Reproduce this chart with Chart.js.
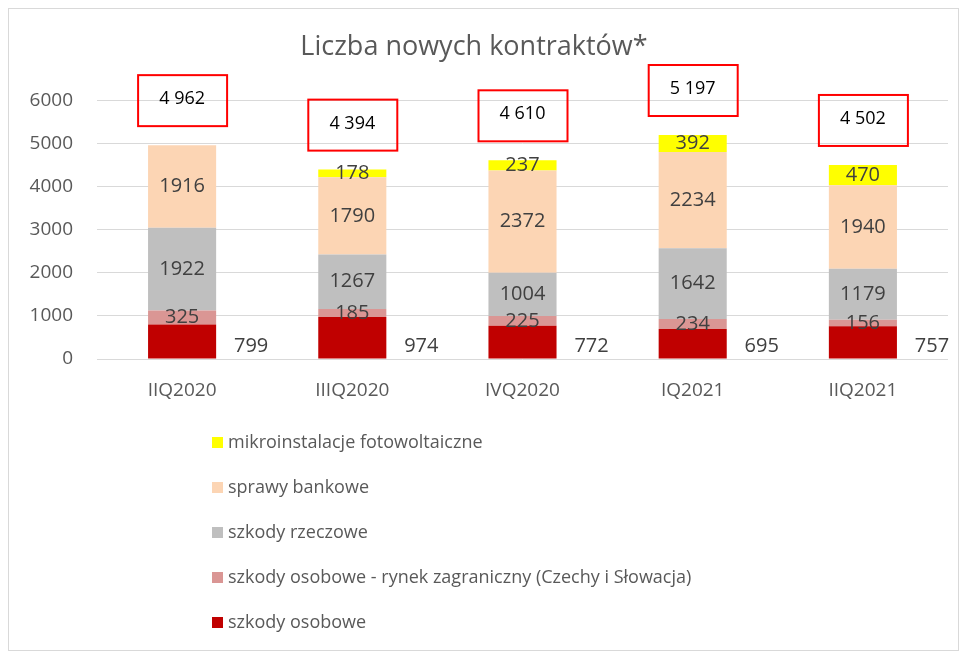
<!DOCTYPE html>
<html>
<head>
<meta charset="utf-8">
<script src="https://cdn.jsdelivr.net/npm/chart.js@4.4.0/dist/chart.umd.min.js"></script>
<style>
  html, body { margin: 0; padding: 0; background: #fff; }
  #wrap { position: relative; width: 966px; height: 653px; }
  #ramka { position: absolute; left: 8px; top: 8px; width: 951px; height: 643px; border: 1px solid #d9d9d9; box-sizing: border-box; pointer-events: none; }
  canvas { position: absolute; left: 0; top: 0; }
</style>
</head>
<body>
<div id="wrap">
  <canvas id="wykres" width="966" height="653"></canvas>
  <div id="ramka"></div>
</div>
<script>
// dane z wykresu
const kwartaly = ['IIQ2020', 'IIIQ2020', 'IVQ2020', 'IQ2021', 'IIQ2021'];
const szkodyOsobowe = [799, 974, 772, 695, 757];
const szkodyZagraniczne = [325, 185, 225, 234, 156];
const szkodyRzeczowe = [1922, 1267, 1004, 1642, 1179];
const sprawyBankowe = [1916, 1790, 2372, 2234, 1940];
const mikroinstalacje = [0, 178, 237, 392, 470];
const osY = [0, 1000, 2000, 3000, 4000, 5000, 6000];

const FONT = '"Open Sans", "Liberation Sans", sans-serif';
const SZARY = '#595959';

// format "4 962"
const formatSumy = (n) => String(n).replace(/\B(?=(\d{3})+(?!\d))/g, ' ');

// etykiety wartosci, sumy w czerwonych ramkach i legenda pionowa
const etykiety = {
    id: 'etykiety',
    afterDatasetsDraw(chart) {
        const ctx = chart.ctx;
        const area = chart.chartArea;
        ctx.save();
        ctx.font = '20px ' + FONT;
        ctx.textAlign = 'center';
        ctx.textBaseline = 'middle';
        ctx.fillStyle = '#404040';
        chart.data.datasets.forEach((ds, i) => {
            const meta = chart.getDatasetMeta(i);
            meta.data.forEach((bar, j) => {
                const v = ds.data[j];
                if (!v) return;
                if (i === 0) {
                    // szkody osobowe - etykieta obok slupka
                    ctx.fillText(v, bar.x + bar.width / 2 + 35, area.bottom - 13);
                } else {
                    ctx.fillText(v, bar.x, (bar.y + bar.base) / 2);
                }
            });
        });

        // sumy
        const yScale = chart.scales.y;
        const ostatni = chart.getDatasetMeta(0).data;
        ctx.font = '18px ' + FONT;
        ctx.fillStyle = '#000';
        ctx.strokeStyle = '#ff0000';
        ctx.lineWidth = 2;
        kwartaly.forEach((k, j) => {
            const suma = chart.data.datasets.reduce((acc, ds) => acc + ds.data[j], 0);
            const cx = ostatni[j].x;
            const cy = yScale.getPixelForValue(suma) - 45;
            ctx.strokeRect(cx - 44, cy - 25, 89, 51);
            ctx.fillText(formatSumy(suma), cx, cy - 1);
        });
        ctx.restore();
    },
    afterDraw(chart) {
        const ctx = chart.ctx;
        const area = chart.chartArea;
        ctx.save();
        ctx.font = '18px ' + FONT;
        ctx.textAlign = 'left';
        ctx.textBaseline = 'middle';
        const ds = chart.data.datasets.slice().reverse();
        ds.forEach((d, i) => {
            const y = area.bottom + 84 + i * 45;
            ctx.fillStyle = d.backgroundColor;
            ctx.fillRect(212, y - 6, 11, 11);
            ctx.fillStyle = SZARY;
            ctx.fillText(d.label, 228, y);
        });
        ctx.restore();
    }
};

const ctx = document.getElementById('wykres').getContext('2d');
new Chart(ctx, {
    type: 'bar',
    data: {
        labels: kwartaly,
        datasets: [
            { label: 'szkody osobowe', data: szkodyOsobowe, backgroundColor: '#C00000' },
            { label: 'szkody osobowe - rynek zagraniczny (Czechy i Słowacja)', data: szkodyZagraniczne, backgroundColor: '#DA9694' },
            { label: 'szkody rzeczowe', data: szkodyRzeczowe, backgroundColor: '#BFBFBF' },
            { label: 'sprawy bankowe', data: sprawyBankowe, backgroundColor: '#FCD5B4' },
            { label: 'mikroinstalacje fotowoltaiczne', data: mikroinstalacje, backgroundColor: '#FFFF00' }
        ]
    },
    options: {
        responsive: false,
        animation: false,
        layout: { padding: { left: 0, right: 18, top: 0, bottom: 244 } },
        datasets: { bar: { barPercentage: 0.8, categoryPercentage: 0.5 } },
        scales: {
            x: {
                stacked: true,
                grid: { display: false },
                border: { display: false },
                ticks: { color: SZARY, font: { family: FONT, size: 19 }, padding: 12 },
                afterFit: (scale) => { scale.height = 50; }
            },
            y: {
                stacked: true,
                min: osY[0],
                max: osY[osY.length - 1],
                afterBuildTicks: (scale) => { scale.ticks = osY.map(v => ({ value: v })); },
                grid: { color: '#d9d9d9', lineWidth: 1, drawTicks: false },
                border: { display: false },
                ticks: { color: SZARY, font: { family: FONT, size: 19 }, padding: 24, callback: (v) => String(v) },
                afterFit: (scale) => { scale.width = 97; }
            }
        },
        plugins: {
            legend: { display: false },
            tooltip: { enabled: false },
            title: {
                display: true,
                text: 'Liczba nowych kontraktów*',
                color: SZARY,
                font: { family: FONT, size: 27, weight: 'normal' },
                padding: { top: 31, bottom: 37 }
            }
        }
    },
    plugins: [etykiety]
});
</script>
</body>
</html>
